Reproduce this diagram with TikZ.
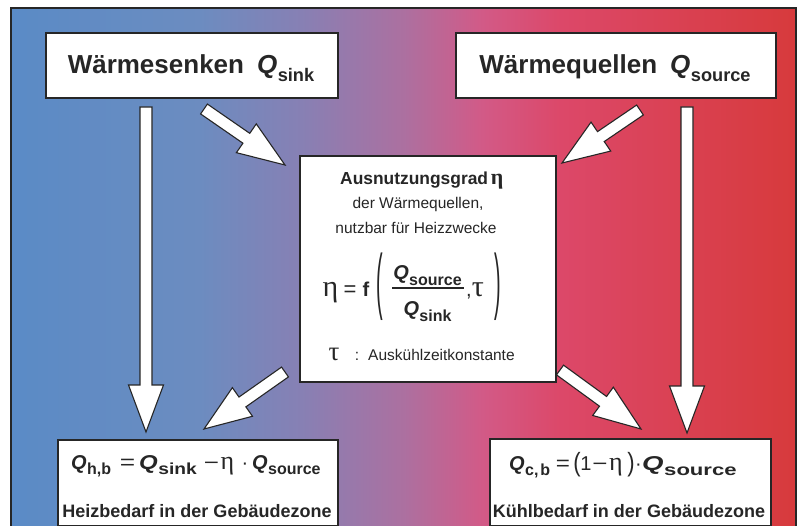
\documentclass[tikz,border=0pt]{standalone}
\usepackage{fontspec}
\usepackage{graphicx}
\setmainfont{Liberation Sans}
\newfontfamily\grk{Liberation Serif}
\usetikzlibrary{calc}

% background colours, cold (left) to warm (right)
\definecolor{bgA}{RGB}{90,139,198}
\definecolor{bgB}{RGB}{108,140,192}
\definecolor{bgC}{RGB}{135,128,180}
\definecolor{bgD}{RGB}{172,112,160}
\definecolor{bgE}{RGB}{210,90,135}
\definecolor{bgF}{RGB}{220,72,105}
\definecolor{bgG}{RGB}{215,58,60}
\definecolor{ink}{RGB}{38,38,38}

\pgfdeclarehorizontalshading{heatflow}{100bp}{%
  color(0bp)=(bgA); color(25bp)=(bgA); color(37bp)=(bgB);
  color(43.5bp)=(bgC); color(50bp)=(bgD); color(55bp)=(bgE);
  color(60bp)=(bgF); color(75bp)=(bgG); color(100bp)=(bgG)}

% Q with a bold subscript (optional: subscript scale)
\newcommand\Qsub[2][.8]{\textbf{\textit{Q}}\kern.02em\raisebox{-.28em}{\scalebox{#1}{\bfseries #2}}}
\newcommand\fs[1]{\fontsize{#1}{#1}\selectfont}
\newcommand\geta[1]{{\grk\fs{#1}η}}
\newcommand\gtau[1]{{\grk\fs{#1}τ}}

\tikzset{
  box/.style={draw=ink, line width=1.6pt, fill=white, inner sep=0pt, anchor=north west},
  label/.style={inner sep=0pt, anchor=base, text=ink},
  arrowshape/.style={draw=ink, line width=1.1pt, fill=white, line join=miter},
  frame/.style={draw=ink, line width=1.5pt, shading=heatflow}
}

% white block arrow from #1 to #2
\newcommand\blockarrow[2]{%
  \coordinate (ba-h) at ($(#2)!47pt!(#1)$);
  \draw[arrowshape] ($(#1)!6pt!90:(#2)$) -- ($(ba-h)!6pt!90:(#2)$)
    -- ($(ba-h)!17.5pt!90:(#2)$) -- (#2) -- ($(ba-h)!17.5pt!-90:(#2)$)
    -- ($(ba-h)!6pt!-90:(#2)$) -- ($(#1)!6pt!-90:(#2)$) -- cycle;}

\begin{document}
\begin{tikzpicture}[x=1pt,y=-1pt]
\useasboundingbox (0,0) rectangle (797,526);
\path[frame] (11,8) rectangle (796,532);

% boxes
\node[box, minimum width=292, minimum height=65] (sink) at (45,32) {};
\node[box, minimum width=320, minimum height=65] (source) at (455,32) {};
\node[box, minimum width=256, minimum height=226] (eta) at (299,155) {};
\node[box, minimum width=280, minimum height=86] (heat) at (57,439) {};
\node[box, minimum width=281, minimum height=87] (cool) at (489,438) {};

% headings of the top boxes
\node[label] (sink-t) at (191,74) {\fs{26}\bfseries Wärmesenken\hspace{.5em}\Qsub[.7]{sink}};
\node[label] (source-t) at (615,74) {\fs{26}\bfseries Wärmequellen\hspace{.5em}\Qsub[.7]{source}};

% utilisation factor
\node[label, anchor=base west] (eta-t) at (340,185) {\fs{17.4}\bfseries Ausnutzungsgrad\,\geta{22}};
\node[label] (eta-l1) at (418,209) {\fs{15.5}der Wärmequellen,};
\node[label] (eta-l2) at (416,234) {\fs{15.5}nutzbar für Heizzwecke};

\node[label] (f-eta) at (330.5,297) {\geta{30}};
\node[label] (f-eq) at (350,297) {\fs{22}=};
\node[label] (f-f) at (366,297) {\fs{20}\bfseries f};
\node[label, anchor=center] (f-lp) at (379.5,287) {\scalebox{.9}[3.3]{\fs{22}(}};
\node[label] (f-num) at (427.5,279.5) {\fs{20}\Qsub{source}};
\node[label] (f-den) at (427.5,316) {\fs{20}\Qsub{sink}};
\draw[ink, line width=1.1pt] (392,288) -- (464,288);
\node[label, anchor=base west] (f-tau) at (466,297) {\fs{20},\gtau{30}};
\node[label, anchor=center] (f-rp) at (497.5,287) {\scalebox{.9}[3.3]{\fs{22})}};

\node[label] (tau-s) at (334,360) {\gtau{27}};
\node[label] (tau-c) at (357,360) {\fs{15.5}:};
\node[label, anchor=base west] (tau-t) at (368,360) {\fs{15.5}Auskühlzeitkonstante};

% heating demand: Q_h,b = Q_sink - eta * Q_source
\node[label, anchor=base west] (h-q) at (71,469) {\fs{20}\Qsub{h,b}};
\node[label] (h-eq) at (127.5,469) {\scalebox{1.25}[1]{\fs{21}=}};
\node[label, anchor=base west] (h-sink) at (139,469) {\scalebox{1.2}[1]{\fs{20}\Qsub{sink}}};
\node[label] (h-minus) at (211.5,469) {\scalebox{1.3}[1]{\fs{20}−}};
\node[label] (h-eta) at (227.5,469) {\geta{26}};
\node[label] (h-dot) at (245,469) {\fs{20}·};
\node[label, anchor=base west] (h-src) at (252,469) {\fs{20}\Qsub{source}};
\node[label] (heat-t) at (197,517) {\fs{18}\bfseries Heizbedarf in der Gebäudezone};

% cooling demand: Q_c,b = (1 - eta) * Q_source
\node[label, anchor=base west] (c-q) at (509,470) {\fs{20}\Qsub{c,\kern.12em b}};
\node[label] (c-eq) at (563,470) {\scalebox{1.15}[1]{\fs{21}=}};
\node[label, anchor=center] (c-lp) at (577,465) {\scalebox{1}[1.2]{\fs{22}(}};
\node[label] (c-one) at (586,470) {\fs{20}1};
\node[label] (c-minus) at (600,470) {\scalebox{1.3}[1]{\fs{20}−}};
\node[label] (c-eta) at (616,470) {\geta{26}};
\node[label, anchor=center] (c-rp) at (631,465) {\scalebox{1}[1.2]{\fs{22})}};
\node[label] (c-dot) at (638.5,470) {\fs{20}·};
\node[label, anchor=base west] (c-src) at (642,470) {\scalebox{1.38}[1]{\fs{20}\Qsub{source}}};
\node[label] (cool-t) at (629,517) {\fs{18}\bfseries Kühlbedarf in der Gebäudezone};

% arrow end points
\coordinate (sink-v0) at (146,107);  \coordinate (sink-v1) at (146,432);
\coordinate (sink-d0) at (204,109);  \coordinate (sink-d1) at (285,165);
\coordinate (src-v0) at (687,107);   \coordinate (src-v1) at (687,433);
\coordinate (src-d0) at (640,110);   \coordinate (src-d1) at (562,163);
\coordinate (eta-h0) at (285,372);   \coordinate (eta-h1) at (204,429);
\coordinate (eta-c0) at (560,370);   \coordinate (eta-c1) at (641,429);

\blockarrow{sink-v0}{sink-v1}
\blockarrow{sink-d0}{sink-d1}
\blockarrow{src-v0}{src-v1}
\blockarrow{src-d0}{src-d1}
\blockarrow{eta-h0}{eta-h1}
\blockarrow{eta-c0}{eta-c1}
\end{tikzpicture}
\end{document}
